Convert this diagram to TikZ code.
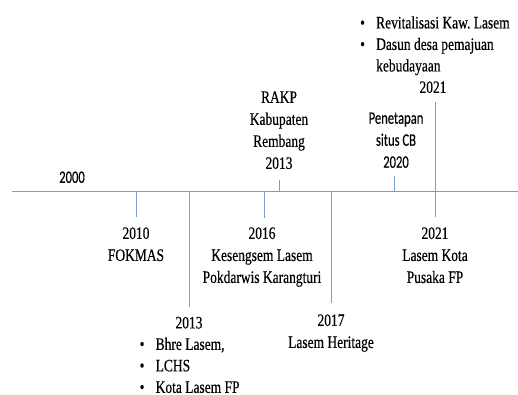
\documentclass[tikz,border=0pt]{standalone}
\usepackage{fontspec}
\setmainfont{Liberation Serif}[FakeStretch=0.77,FakeBold=0.4]
\newfontfamily\sansf{Carlito}[FakeStretch=0.72,FakeBold=0.3]
\definecolor{tl}{RGB}{125,155,205}
\newcommand\bitem[1]{\makebox[16pt][l]{\textbullet}#1}
\frenchspacing
\begin{document}
\begin{tikzpicture}[x=1pt,y=-1pt,
  lbl/.style={align=center, inner sep=0pt, anchor=north, font=\fontsize{17.5}{22}\selectfont},
  blist/.style={align=left, inner sep=0pt, anchor=north west, font=\fontsize{17.5}{21.5}\selectfont},
  slbl/.style={align=center, inner sep=0pt, anchor=north, font=\sansf\fontsize{17.5}{22}\selectfont},
  ln/.style={draw=tl, line width=1pt}]
\useasboundingbox (0,0) rectangle (518,394);
% main axis
\coordinate (start) at (12,191);
\coordinate (end) at (518,191);
\draw[ln] (start) -- (end);
\coordinate (c10) at (136,191);   \coordinate (e10) at (136,217);
\coordinate (c13) at (189,191);   \coordinate (e13) at (189,307);
\coordinate (c16) at (264,191);   \coordinate (e16) at (264,218);
\coordinate (c13u) at (279,191);  \coordinate (e13u) at (279,180);
\coordinate (c17) at (331,191);   \coordinate (e17) at (331,303);
\coordinate (c20) at (394,191);   \coordinate (e20) at (394,176);
\coordinate (c21) at (435,191);   \coordinate (e21u) at (435,102);
\coordinate (e21d) at (435,217);
% labels
\node[slbl] (l2000) at (72,171.3) {2000};
\node[lbl] (l2010) at (136,227.1) {2010\\FOKMAS};
\node[lbl] (l2013y) at (189,316.6) {2013};
\node[blist] (l2013b) at (139.5,337.5) {\bitem{Bhre Lasem,}\\\bitem{LCHS}\\\bitem{Kota Lasem FP}};
\node[lbl] (l2016) at (262,227.1) {2016\\Kesengsem Lasem\\Pokdarwis Karangturi};
\node[lbl] (l2017) at (331,314.1) {2017\\Lasem Heritage};
\node[lbl] (lrakp) at (279,91.1) {RAKP\\Kabupaten\\Rembang\\2013};
\node[slbl] (l2020) at (396,112.3) {Penetapan\\situs CB\\2020};
\node[blist] (l2021b) at (360,16.1) {\bitem{Revitalisasi Kaw. Lasem}\\\bitem{Dasun desa pemajuan}\\\hspace*{16pt}kebudayaan};
\node[lbl] (l2021y) at (433,81.1) {2021};
\node[lbl] (l2021d) at (435,227.1) {2021\\Lasem Kota\\Pusaka FP};
% ticks
\draw[ln] (c10) -- (e10);
\draw[ln] (c13) -- (e13);
\draw[ln] (c16) -- (e16);
\draw[ln] (c17) -- (e17);
\draw[ln] (c13u) -- (e13u);
\draw[ln] (c20) -- (e20);
\draw[ln] (c21) -- (e21u);
\draw[ln] (c21) -- (e21d);
\end{tikzpicture}
\end{document}
